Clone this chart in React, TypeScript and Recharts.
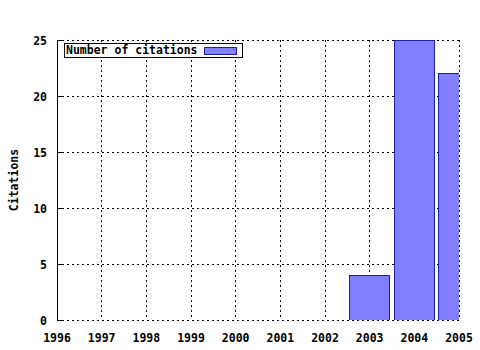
import { BarChart, Bar, XAxis, YAxis, CartesianGrid, Legend } from "recharts";

const years = [1996, 1997, 1998, 1999, 2000, 2001, 2002, 2003, 2004, 2005];
const citations = [0, 0, 0, 0, 0, 0, 0, 4, 25, 22];
const yTicks = [0, 5, 10, 15, 20, 25];
// quarter-year minor ticks for the x axis
const xMinorTicks = years.flatMap((y) => [y, y + 0.25, y + 0.5, y + 0.75]).filter((v) => v <= 2005);

const seriesName = "Number of citations";
const yLabel = "Citations";

const FONT = '"DejaVu Sans Mono", "Liberation Mono", monospace';
const FILL = "#8080ff";
const EDGE = "#2020a0";

const data = years.map((year, i) => ({ year, citations: citations[i] }));

const textStyle = { fontFamily: FONT, fontWeight: "bold" as const, fontSize: 11.5, fill: "#000" };

function XLineTick({ x, y, payload, dir }: any) {
  const major = Number.isInteger(payload.value);
  const len = major ? 6 : 3;
  return <line x1={x} x2={x} y1={y} y2={y + dir * len} stroke="#000" />;
}

function XLabelTick({ x, y, payload }: any) {
  return (
    <text x={x} y={y + 22} textAnchor="middle" {...textStyle}>
      {payload.value}
    </text>
  );
}

function YLeftTick({ x, y, payload }: any) {
  return (
    <g>
      <line x1={x} x2={x + 6} y1={y} y2={y} stroke="#000" />
      <text x={x - 10} y={y + 5} textAnchor="end" {...textStyle}>
        {payload.value}
      </text>
    </g>
  );
}

function YRightTick({ x, y }: any) {
  return <line x1={x} x2={x - 6} y1={y} y2={y} stroke="#000" />;
}

function LegendBox() {
  return (
    <div
      style={{
        boxSizing: "border-box",
        width: 179,
        height: 15,
        border: "1px solid #000",
        background: "#fff",
        display: "flex",
        alignItems: "center",
        fontFamily: FONT,
        fontWeight: "bold",
        fontSize: 11.5,
        lineHeight: 1,
        whiteSpace: "pre",
      }}
    >
      <span style={{ marginLeft: 1 }}>{seriesName}</span>
      <span
        style={{
          marginLeft: "auto",
          marginRight: 5,
          boxSizing: "border-box",
          width: 33,
          height: 8,
          background: FILL,
          border: `1px solid ${EDGE}`,
        }}
      />
    </div>
  );
}

export default function App() {
  return (
    <div
      style={{
        position: "absolute",
        left: 0,
        top: 0,
        width: 480,
        height: 350,
        background: "#fff",
        shapeRendering: "crispEdges",
      }}
    >
      <BarChart width={480} height={350} data={data} margin={{ top: 40, right: 21, bottom: 0, left: 0 }}>
        <CartesianGrid xAxisId="b" yAxisId="l" stroke="#000" strokeDasharray="2 3" />
        <Bar
          xAxisId="b"
          yAxisId="l"
          dataKey="citations"
          name={seriesName}
          barSize={40}
          fill={FILL}
          stroke={EDGE}
          isAnimationActive={false}
        />
        <XAxis
          xAxisId="bm"
          type="number"
          dataKey="year"
          domain={[1996, 2005]}
          allowDataOverflow
          ticks={xMinorTicks}
          interval={0}
          height={0}
          tickSize={0}
          tickMargin={0}
          tickLine={false}
          axisLine={{ stroke: "#000" }}
          tick={<XLineTick dir={-1} />}
        />
        <XAxis
          xAxisId="b"
          type="number"
          dataKey="year"
          domain={[1996, 2005]}
          allowDataOverflow
          ticks={years}
          interval={0}
          height={30}
          tickSize={0}
          tickMargin={0}
          tickLine={false}
          axisLine={false}
          tick={<XLabelTick />}
        />
        <XAxis
          xAxisId="t"
          orientation="top"
          type="number"
          dataKey="year"
          domain={[1996, 2005]}
          allowDataOverflow
          ticks={xMinorTicks}
          interval={0}
          height={0}
          tickSize={0}
          tickMargin={0}
          tickLine={false}
          axisLine={{ stroke: "#000" }}
          tick={<XLineTick dir={1} />}
        />
        <YAxis
          yAxisId="l"
          type="number"
          domain={[0, 25]}
          allowDataOverflow
          ticks={yTicks}
          interval={0}
          width={57}
          tickSize={0}
          tickMargin={0}
          tickLine={false}
          axisLine={{ stroke: "#000" }}
          tick={<YLeftTick />}
          label={{ value: yLabel, angle: -90, position: "center", dx: -14.5, style: textStyle }}
        />
        <YAxis
          yAxisId="r"
          orientation="right"
          type="number"
          domain={[0, 25]}
          allowDataOverflow
          ticks={yTicks}
          interval={0}
          width={0}
          tickSize={0}
          tickMargin={0}
          tickLine={false}
          axisLine={{ stroke: "#000" }}
          tick={<YRightTick />}
        />
        <Legend
          layout="vertical"
          align="center"
          verticalAlign="middle"
          content={<LegendBox />}
          wrapperStyle={{ left: 64, top: 43, width: "auto", height: "auto" }}
        />
      </BarChart>
    </div>
  );
}
